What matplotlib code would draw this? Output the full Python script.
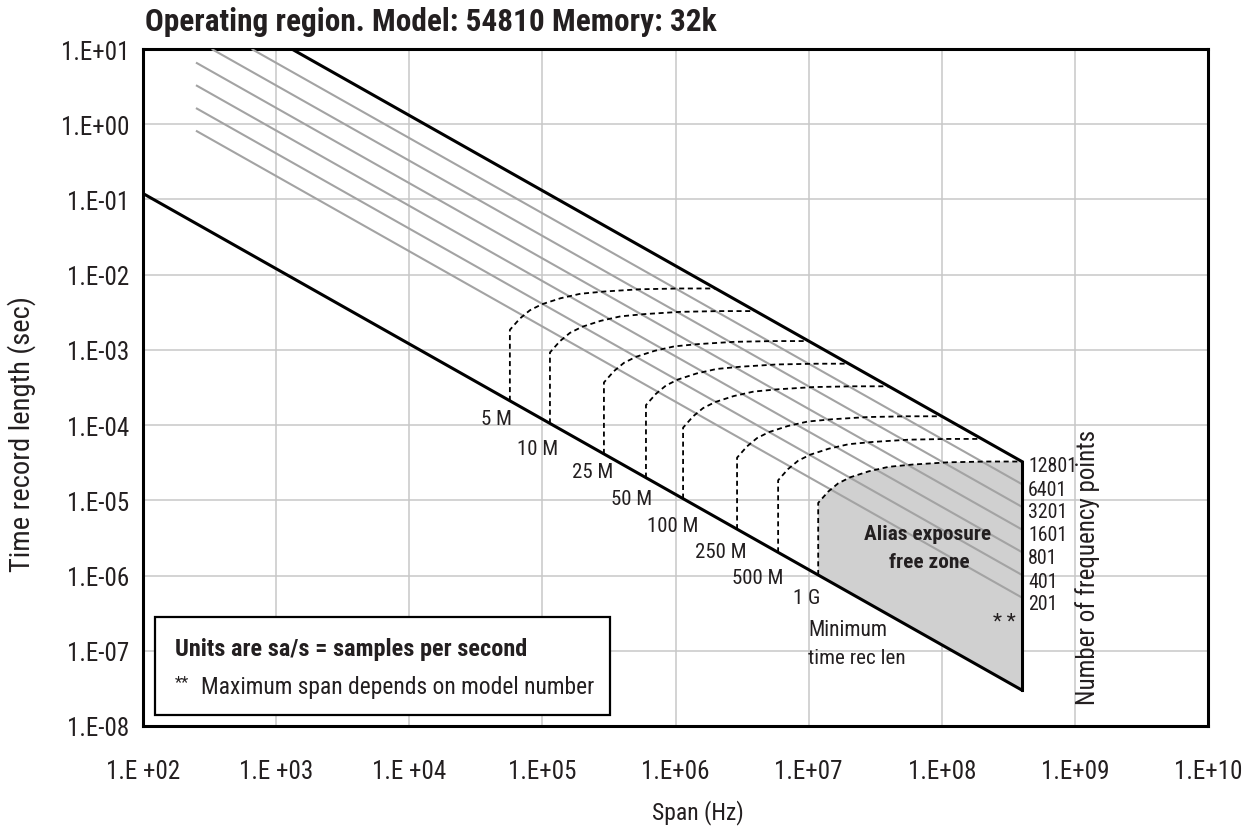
import numpy as np
import matplotlib
matplotlib.use("Agg")
import matplotlib.pyplot as plt
from matplotlib.patches import Polygon, Rectangle

# ------------------------------------------------------------------ data
title = "Operating region. Model: 54810 Memory: 32k"

x_tick_values = [1e2, 1e3, 1e4, 1e5, 1e6, 1e7, 1e8, 1e9, 1e10]
x_tick_labels = ["1.E +02", "1.E +03", "1.E +04", "1.E+05", "1.E+06",
                 "1.E+07", "1.E+08", "1.E+09", "1.E+10"]
y_tick_values = [1e1, 1e0, 1e-1, 1e-2, 1e-3, 1e-4, 1e-5, 1e-6, 1e-7, 1e-8]
y_tick_labels = ["1.E+01", "1.E+00", "1.E-01", "1.E-02", "1.E-03", "1.E-04",
                 "1.E-05", "1.E-06", "1.E-07", "1.E-08"]

# upper boundary (12801 frequency points, max time record)
upper_span = [1.31e3, 4.0e8]
upper_time = [10.0, 3.28e-5]
# lower boundary (minimum time record length)
lower_span = [1.0e2, 4.0e8]
lower_time = [0.12, 3.0e-8]

freq_point_labels = ["12801", "6401", "3201", "1601", "801", "401", "201"]
gray_start_span = [655, 328, 250, 250, 250, 250]
gray_start_time = [10.0, 10.0, 6.6, 3.3, 1.64, 0.82]
gray_end_span = [4e8, 4e8, 4e8, 4e8, 4e8, 4e8]
gray_end_time = [1.64e-5, 8.2e-6, 4.1e-6, 2.05e-6, 1.02e-6, 5.1e-7]

rate_labels = ["5 M", "10 M", "25 M", "50 M", "100 M", "250 M", "500 M", "1 G"]
rate_vertical_span = [5.7e4, 1.14e5, 2.9e5, 6.0e5, 1.14e6, 2.9e6, 5.9e6, 1.18e7]
rate_memory_time = [6.55e-3, 3.28e-3, 1.31e-3, 6.55e-4, 3.28e-4, 1.31e-4, 6.55e-5, 3.28e-5]

# shape of the rounded corner of each dashed curve (decades from the corner)
corner_dlog_span = [0, 0.075, 0.15, 0.24, 0.38, 0.53, 0.71, 0.98, 1.28]
corner_dlog_time = [-0.55, -0.40, -0.29, -0.21, -0.13, -0.07, -0.04, -0.01, 0.0]

# ------------------------------------------------------------------ style
plt.rcParams["font.family"] = ["Roboto Condensed", "Roboto", "DejaVu Sans"]
plt.rcParams["font.stretch"] = "condensed"
W, H = 1247, 829


def fpos(px, py):
    return px / W, 1 - py / H


fig = plt.figure(figsize=(W / 100, H / 100), dpi=100)
L, R, T, B = 143, 1208, 50, 727
ax = fig.add_axes([L / W, 1 - B / H, (R - L) / W, (B - T) / H])
ax.set_xscale("log")
ax.set_yscale("log")
ax.set_xlim(1e2, 1e10)
ax.set_ylim(1e-8, 1e1)
ax.set_xticks(x_tick_values, x_tick_labels)
ax.set_yticks(y_tick_values, y_tick_labels)
ax.minorticks_off()
ax.tick_params(axis="both", length=0, labelsize=18, colors="#231f20")
ax.tick_params(axis="x", pad=24)
ax.tick_params(axis="y", pad=10)
ax.grid(True, which="major", color="#c8c8c8", lw=1.1)
ax.set_axisbelow(True)
for s in ax.spines.values():
    s.set_linewidth(2.2)
    s.set_color("black")


def line_time_at(span, xs, ys):
    return 10 ** np.interp(np.log10(span), np.log10(xs), np.log10(ys))


def line_span_at(time, xs, ys):
    return 10 ** np.interp(np.log10(time), np.log10(ys)[::-1], np.log10(xs)[::-1])


def rate_curve(i):
    v = rate_vertical_span[i]
    tt = rate_memory_time[i]
    xs = [v] + [v * 10 ** d for d in corner_dlog_span] + [line_span_at(tt, upper_span, upper_time)]
    ys = [line_time_at(v, lower_span, lower_time)] + [tt * 10 ** d for d in corner_dlog_time] + [tt]
    return xs, ys


# shaded alias-free zone (bounded by the 1 G curve)
gx, gy = rate_curve(len(rate_labels) - 1)
verts = list(zip(gx, gy)) + [(upper_span[1], lower_time[1])]
ax.add_patch(Polygon(verts, closed=True, facecolor="#d0d0d0", edgecolor="none", zorder=2))

# gray lines (frequency points)
for i in range(len(gray_start_span)):
    ax.plot([gray_start_span[i], gray_end_span[i]], [gray_start_time[i], gray_end_time[i]],
            color="#a3a3a3", lw=1.5, zorder=3, solid_capstyle="butt")

# dashed sample-rate curves
for i in range(len(rate_labels)):
    xs, ys = rate_curve(i)
    ax.plot(xs, ys, color="black", lw=1.3, dashes=(2.8, 2.0), zorder=4)

# black boundaries
ax.plot(upper_span, upper_time, color="black", lw=2.2, zorder=5)
ax.plot(lower_span, lower_time, color="black", lw=2.2, zorder=5)
ax.plot([upper_span[1], lower_span[1]], [upper_time[1], lower_time[1]], color="black",
        lw=2.2, zorder=5)

# ------------------------------------------------------------------ texts
tc = "#231f20"
fig.text(*fpos(145, 22), title, fontsize=22.5, fontweight="bold", ha="left", va="center", color=tc)
fig.text(*fpos(22, 434), "Time record length (sec)", fontsize=20.5, rotation=90,
         ha="center", va="center", color=tc)
fig.text(*fpos(698, 813), "Span (Hz)", fontsize=17, ha="center", va="center", color=tc)
fig.text(*fpos(1088, 567), "Number of frequency points", fontsize=18, rotation=90,
         ha="center", va="center", color=tc)

rate_label_px = [(512, 420), (558, 450), (613, 473), (652, 500), (698, 527),
                 (747, 552), (783, 579), (820, 599)]
for lab, (px, py) in zip(rate_labels, rate_label_px):
    fig.text(*fpos(px, py), lab, fontsize=15, ha="right", va="center", color=tc)

freq_label_py = [467, 490, 513, 536, 559, 582, 605]
for lab, py in zip(freq_point_labels, freq_label_py):
    fig.text(*fpos(1028, py), lab, fontsize=14.3, ha="left", va="center", color=tc)

fig.text(*fpos(928, 535), "Alias exposure", fontsize=15.4, fontweight="bold", ha="center",
         va="center", color=tc)
fig.text(*fpos(929, 563), "free zone", fontsize=15.4, fontweight="bold", ha="center",
         va="center", color=tc)
fig.text(*fpos(1004, 613), "* *", fontsize=15, ha="center", va="top", color=tc)
fig.text(*fpos(808, 631), "Minimum", fontsize=15.5, ha="left", va="center", color=tc)
fig.text(*fpos(808, 659), "time rec len", fontsize=15.2, ha="left", va="center", color=tc)

# note box
x0, y0 = fpos(155, 716)
x1, y1 = fpos(610, 618)
ax.add_patch(Rectangle((x0, y0), x1 - x0, y1 - y0, transform=fig.transFigure,
                       facecolor="white", edgecolor="black", lw=1.6, zorder=8, clip_on=False))
fig.text(*fpos(175, 650), "Units are sa/s = samples per second", fontsize=17.5,
         fontweight="bold", ha="left", va="center", color=tc, zorder=9)
fig.text(*fpos(175, 675), "**", fontsize=12, ha="left", va="top", color=tc, zorder=9)
fig.text(*fpos(201, 688), "Maximum span depends on model number", fontsize=16.9,
         ha="left", va="center", color=tc, zorder=9)

fig.savefig("out.png", dpi=100)
